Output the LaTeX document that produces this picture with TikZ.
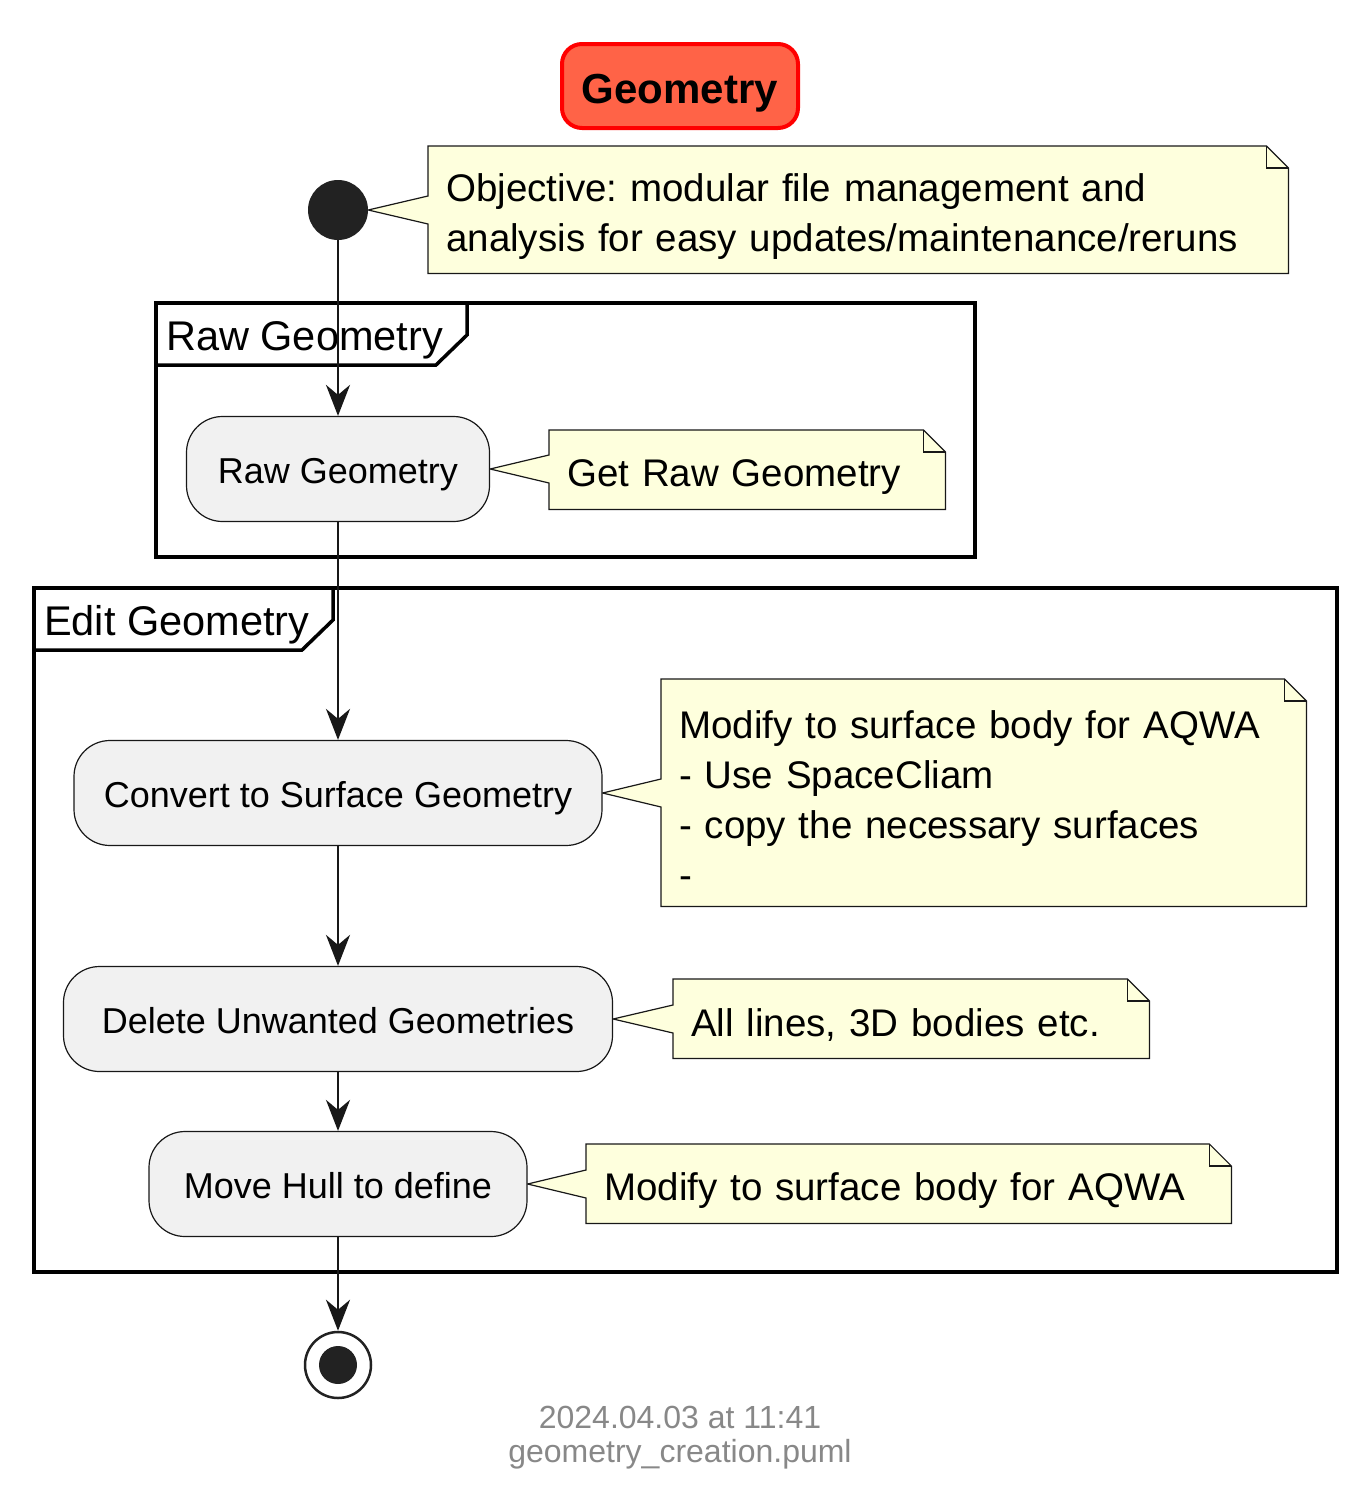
\documentclass[tikz,border=0pt]{standalone}
\usepackage{fontspec}
\setmainfont{Liberation Sans}
\usetikzlibrary{arrows.meta,calc}
\frenchspacing
\definecolor{notefill}{HTML}{FEFFDD}
\definecolor{actfill}{HTML}{F1F1F1}
\definecolor{ink}{HTML}{181818}
\definecolor{dotc}{HTML}{222222}
\definecolor{tomato}{HTML}{FF6347}
\definecolor{footc}{HTML}{888888}
\pgfdeclarelayer{bg}
\pgfsetlayers{bg,main}
\tikzset{
  act/.style={draw=ink, line width=1.2pt, fill=actfill, rounded corners=36pt,
    minimum height=105pt, inner sep=0pt, text height=32pt, text depth=4pt,
    font=\fontsize{36}{42}\selectfont},
  notetxt/.style={anchor=north west, inner xsep=18pt, inner ysep=0pt, align=left,
    execute at begin node={\rule{0pt}{41pt}},
    font=\fontsize{38.5}{50}\selectfont},
  noteline/.style={draw=ink, line width=1.2pt, fill=notefill},
  flow/.style={draw=ink, line width=2.5pt, -{Stealth[length=31pt,width=24pt,inset=10pt]}},
  framebox/.style={draw=black, line width=3.5pt},
  framelabel/.style={anchor=west, inner sep=0pt, font=\fontsize{41.5}{50}\selectfont},
  footer/.style={text=footc, inner sep=0pt, font=\fontsize{32}{38}\selectfont},
}
\newcommand{\drawnote}[2]{%
  \begin{pgfonlayer}{bg}
  \path[noteline] (#1.north west) -- ([xshift=-22pt]#1.north east)
    -- ([yshift=-22pt]#1.north east) -- (#1.south east) -- (#1.south west)
    -- ($(#1.west |- #2)+(0,14)$) -- (#2) -- ($(#1.west |- #2)+(0,-14)$) -- cycle;
  \draw[draw=ink, line width=1.2pt, line join=miter] ([xshift=-22pt]#1.north east)
    -- ([xshift=-22pt,yshift=-22pt]#1.north east) -- ([yshift=-22pt]#1.north east);
  \end{pgfonlayer}}
\begin{document}
\begin{tikzpicture}[x=1pt,y=-1pt]
\useasboundingbox (0,0) rectangle (1366,1507);

% title
\node[draw=red, line width=4pt, fill=tomato, rounded corners=20pt,
  minimum width=236pt, minimum height=84pt, inner sep=0pt,
  text height=38pt, text depth=4pt,
  font=\bfseries\fontsize{42}{50}\selectfont] (title) at (680,86) {Geometry};

% start
\node[circle, fill=dotc, minimum size=60pt, inner sep=0pt] (start) at (338,210) {};
\node[notetxt, text width=824pt, minimum height=127pt] (n1) at (428,146)
  {Objective: modular file management and\\analysis for easy updates/maintenance/reruns};
\drawnote{n1}{start.east}

% Raw Geometry frame
\draw[framebox] (156,303) rectangle (975,557);
\draw[framebox] (156,365) -- (436,365) -- (467,335) -- (467,303);
\node[framelabel] (f1) at (166,340) {Raw Geometry};

\node[act, minimum width=303pt] (raw) at (338,469) {Raw Geometry};
\node[notetxt, text width=360pt, minimum height=79pt] (n2) at (549,430) {Get Raw Geometry};
\drawnote{n2}{raw.east}

% Edit Geometry frame
\draw[framebox] (34,588) rectangle (1337,1272);
\draw[framebox] (34,650) -- (302,650) -- (333,620) -- (333,588);
\node[framelabel] (f2) at (44,625) {Edit Geometry};

\node[act, minimum width=528pt] (conv) at (338,793) {Convert to Surface Geometry};
\node[notetxt, text width=609pt, minimum height=227pt] (n3) at (661,679)
  {Modify to surface body for AQWA\\- Use SpaceCliam\\- copy the necessary surfaces\\-};
\drawnote{n3}{conv.east}

\node[act, minimum width=549pt] (del) at (338,1019) {Delete Unwanted Geometries};
\node[notetxt, text width=440pt, minimum height=79pt] (n4) at (673,979) {All lines, 3D bodies etc.};
\drawnote{n4}{del.east}

\node[act, minimum width=378pt] (move) at (338,1184) {Move Hull to define};
\node[notetxt, text width=609pt, minimum height=79pt] (n5) at (586,1144) {Modify to surface body for AQWA};
\drawnote{n5}{move.east}

% stop
\node[circle, draw=dotc, line width=2.5pt, minimum size=66pt, inner sep=0pt] (stop) at (338,1365) {};
\node[circle, fill=dotc, minimum size=38pt, inner sep=0pt] (stopdot) at (stop) {};

% flows
\draw[flow] (start.south) -- (raw.north);
\draw[flow] (raw.south) -- (conv.north);
\draw[flow] (conv.south) -- (del.north);
\draw[flow] (del.south) -- (move.north);
\draw[flow] (move.south) -- (stop.north);

% footer
\node[footer] (date) at (680,1417) {2024.04.03 at 11:41};
\node[footer] (file) at (680,1454) {geometry\_creation.puml};
\end{tikzpicture}
\end{document}
